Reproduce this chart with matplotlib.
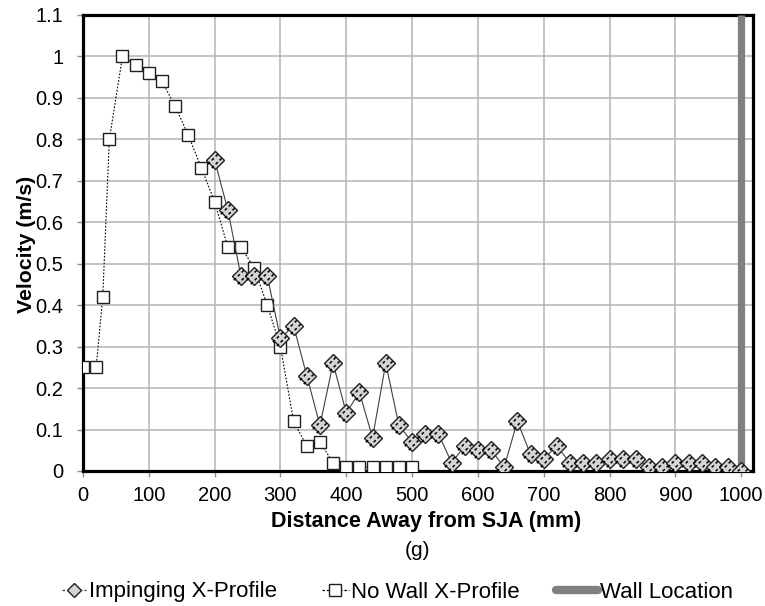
import matplotlib
matplotlib.use("Agg")
import matplotlib.pyplot as plt
from matplotlib.path import Path
from matplotlib.lines import Line2D
import numpy as np

plt.rcParams['font.family'] = ['Liberation Sans', 'DejaVu Sans']

# Data
nowall_x = [0, 20, 30, 40, 60, 80, 100, 120, 140, 160, 180, 200, 220, 240, 260, 280,
            300, 320, 340, 360, 380, 400, 420, 440, 460, 480, 500]
nowall_y = [0.25, 0.25, 0.42, 0.80, 1.00, 0.98, 0.96, 0.94, 0.88, 0.81, 0.73, 0.65,
            0.54, 0.54, 0.49, 0.40, 0.30, 0.12, 0.06, 0.07, 0.02, 0.01, 0.01, 0.01,
            0.01, 0.01, 0.01]
imp_x = [200, 220, 240, 260, 280, 300, 320, 340, 360, 380, 400, 420, 440, 460, 480,
         500, 520, 540, 560, 580, 600, 620, 640, 660, 680, 700, 720, 740, 760, 780,
         800, 820, 840, 860, 880, 900, 920, 940, 960, 980, 1000]
imp_y = [0.75, 0.63, 0.47, 0.47, 0.47, 0.32, 0.35, 0.23, 0.11, 0.26, 0.14, 0.19, 0.08,
         0.26, 0.11, 0.07, 0.09, 0.09, 0.02, 0.06, 0.05, 0.05, 0.01, 0.12, 0.04, 0.03,
         0.06, 0.02, 0.02, 0.02, 0.03, 0.03, 0.03, 0.01, 0.01, 0.02, 0.02, 0.02, 0.01,
         0.01, 0.00]
wall_x = [1000, 1000]
wall_y = [0, 1.1]

xticks = [0, 100, 200, 300, 400, 500, 600, 700, 800, 900, 1000]
yticks = [0, 0.1, 0.2, 0.3, 0.4, 0.5, 0.6, 0.7, 0.8, 0.9, 1.0, 1.1]
ytick_labels = ['0', '0.1', '0.2', '0.3', '0.4', '0.5', '0.6', '0.7', '0.8', '0.9', '1', '1.1']
legend_labels = ['Impinging X-Profile', 'No Wall X-Profile', 'Wall Location']

W, H = 765, 606
fig = plt.figure(figsize=(W / 100, H / 100), dpi=100)
ax = fig.add_axes([83 / W, 1 - 471 / H, (753 - 83) / W, (471 - 15) / H])

# hatch path for diamonds: dashed "/" lines
verts, codes = [], []
for off in (-0.13, 0.13):
    for t0 in (-0.38, -0.12, 0.14):
        t1 = t0 + 0.14
        p0 = (t0 / np.sqrt(2) + off / np.sqrt(2), t0 / np.sqrt(2) - off / np.sqrt(2))
        p1 = (t1 / np.sqrt(2) + off / np.sqrt(2), t1 / np.sqrt(2) - off / np.sqrt(2))
        verts += [p0, p1]
        codes += [Path.MOVETO, Path.LINETO]
hatch_path = Path(verts, codes)

ax.plot(wall_x, wall_y, color='#808080', lw=5.2, zorder=3, solid_capstyle='butt')
ax.plot(nowall_x, nowall_y, color='black', lw=0.8, ls=(0, (1.5, 1.5)), zorder=4,
        marker='s', markersize=8.7, markerfacecolor='white', markeredgecolor='#202020',
        markeredgewidth=1.0)
ax.plot(imp_x, imp_y, color='#404040', lw=0.8, zorder=5,
        marker='D', markersize=8.7, markerfacecolor='#d4d4d4', markeredgecolor='#202020',
        markeredgewidth=1.0)
ax.plot(imp_x, imp_y, ls='none', marker=hatch_path, markersize=11,
        markeredgecolor='black', markeredgewidth=1.1, zorder=6)

ax.set_xlim(0, 1018)
ax.set_ylim(0, 1.1)
ax.set_xticks(xticks)
ax.set_yticks(yticks)
ax.set_yticklabels(ytick_labels)
ax.grid(True, color='#b4b4b4', lw=1.1, zorder=0)
ax.set_axisbelow(True)
ax.tick_params(axis='both', labelsize=14.5, length=4, color='#909090', width=1)
ax.tick_params(axis='x', pad=7)
ax.tick_params(axis='y', pad=10)
for s in ax.spines.values():
    s.set_linewidth(2.3)
    s.set_color('black')

ax.set_xlabel('Distance Away from SJA (mm)', fontsize=15.5, fontweight='bold')
ax.xaxis.set_label_coords((426 - 83) / 670, (471 - 522) / 456)
ax.xaxis.label.set_va('center')
ax.set_ylabel('Velocity (m/s)', fontsize=15.3, fontweight='bold')
ax.yaxis.set_label_coords((26 - 83) / 670, (471 - 244) / 456)
ax.yaxis.label.set_va('center')
fig.text(418 / W, 1 - 550 / H, '(g)', ha='center', va='center', fontsize=15)

h1 = Line2D([], [], color='#404040', lw=0.9, ls=(0, (2, 1.5)), marker='D', markersize=7,
            markerfacecolor='#d4d4d4', markeredgecolor='#202020')
h2 = Line2D([], [], color='black', lw=0.9, ls=(0, (2, 1.5)), marker='s', markersize=9,
            markerfacecolor='white', markeredgecolor='#202020')
h3 = Line2D([], [], color='#808080', lw=6, solid_capstyle='round')
leg_y = 1 - 592 / H
for h, lab, x0, hl in [(h1, legend_labels[0], 62, 1.1),
                       (h2, legend_labels[1], 322, 1.2),
                       (h3, legend_labels[2], 556, 1.9)]:
    lg = fig.legend([h], [lab], loc='center left', bbox_to_anchor=(x0 / W, leg_y),
                    frameon=False, fontsize=16, handlelength=hl, handletextpad=0.1,
                    borderpad=0, borderaxespad=0)

fig.savefig('out.png', dpi=100)
